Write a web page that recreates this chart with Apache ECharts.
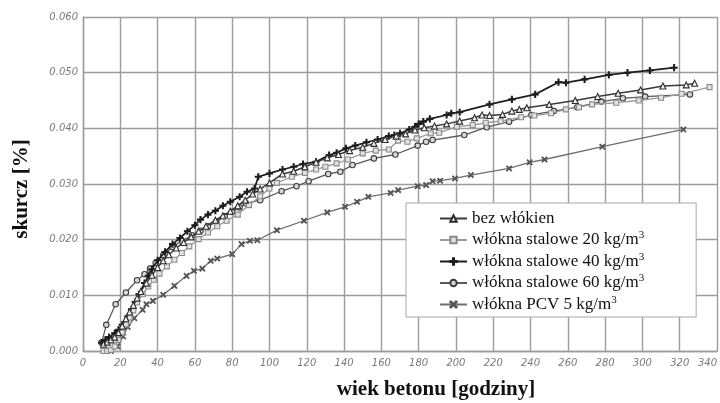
<!DOCTYPE html>
<html>
<head>
<meta charset="utf-8">
<script src="https://cdn.jsdelivr.net/npm/echarts@6/dist/echarts.min.js"></script>
<style>
  html, body { margin: 0; padding: 0; background: #fff; }
  #chart { width: 720px; height: 403px; }
</style>
</head>
<body>
<div id="chart"></div>
<script>
// Skurcz betonu w funkcji wieku – pięć mieszanek
const seriesNames = [
  'bez włókien',
  'włókna stalowe 20 kg/m³',
  'włókna stalowe 40 kg/m³',
  'włókna stalowe 60 kg/m³',
  'włókna PCV 5 kg/m³'
];

const xTicks = [0, 20, 40, 60, 80, 100, 120, 140, 160, 180, 200, 220, 240, 260, 280, 300, 320, 340];
const yTicks = [0.000, 0.010, 0.020, 0.030, 0.040, 0.050, 0.060];

// bez włókien
const hoursBez = [11, 13, 15, 17, 19, 21, 23, 25, 27, 29, 31, 34, 37, 40, 43, 46, 50, 54, 58, 62, 66, 71, 75, 79, 83, 87, 91, 95, 100, 107, 113, 119, 125, 131, 137, 143, 150, 156, 162, 168, 173, 178, 183, 188.5, 195, 202, 210, 214, 218, 225, 230, 234, 238, 250, 264, 276, 287, 299, 311, 323.5, 328];
const shrinkBez = [0.0012, 0.0016, 0.0020, 0.0025, 0.0033, 0.0045, 0.0058, 0.0070, 0.0082, 0.0095, 0.0107, 0.0122, 0.0136, 0.0150, 0.0162, 0.0173, 0.0185, 0.0195, 0.0205, 0.0215, 0.0224, 0.0235, 0.0243, 0.0251, 0.0261, 0.0271, 0.0282, 0.0291, 0.0302, 0.0318, 0.0323, 0.0331, 0.0339, 0.0347, 0.0353, 0.0360, 0.0366, 0.0373, 0.0380, 0.0386, 0.0390, 0.0397, 0.0401, 0.0404, 0.0408, 0.0413, 0.0419, 0.0424, 0.0423, 0.0425, 0.0431, 0.0434, 0.0437, 0.0443, 0.0450, 0.0457, 0.0463, 0.0469, 0.0476, 0.0478, 0.0481];

// włókna stalowe 20 kg/m3
const hoursS20 = [11, 13, 15, 17, 19, 21, 23, 25, 27, 29, 32, 35, 38, 41, 45, 49, 53, 57, 62, 67, 72, 77, 83, 89, 95, 100, 104, 112, 119, 125, 130, 136, 142, 150, 157, 164, 169, 174, 179, 186.5, 191, 200.5, 209, 216, 224, 235, 242, 251, 259, 266, 273, 286, 298, 310, 321, 336];
const shrinkS20 = [0.0000, 0.0000, 0.0002, 0.0008, 0.0020, 0.0033, 0.0048, 0.0060, 0.0073, 0.0087, 0.0102, 0.0116, 0.0128, 0.0139, 0.0152, 0.0164, 0.0176, 0.0188, 0.0201, 0.0213, 0.0224, 0.0234, 0.0245, 0.0262, 0.0278, 0.0292, 0.0302, 0.0313, 0.0320, 0.0326, 0.0331, 0.0337, 0.0344, 0.0355, 0.0360, 0.0362, 0.0378, 0.0376, 0.0382, 0.0391, 0.0392, 0.0403, 0.0406, 0.0410, 0.0413, 0.0420, 0.0423, 0.0427, 0.0434, 0.0438, 0.0443, 0.0446, 0.0450, 0.0455, 0.0462, 0.0474];

// włókna stalowe 40 kg/m3
const hoursS40 = [10, 12, 14, 17, 19, 21, 24, 26, 28, 30, 33, 35, 37, 40, 44, 48, 52, 56, 60, 63, 67, 71, 75, 79, 84, 88, 92, 94, 100, 107, 113, 118, 125, 132, 136, 141, 146, 152, 158, 164, 167, 170, 175, 178, 180, 182.5, 186, 195, 197.5, 202, 218, 230, 242.5, 255, 259, 269, 282, 292, 304, 317];
const shrinkS40 = [0.0015, 0.0020, 0.0025, 0.0032, 0.0038, 0.0047, 0.0062, 0.0075, 0.0088, 0.0102, 0.0122, 0.0135, 0.0147, 0.0163, 0.0178, 0.0192, 0.0203, 0.0215, 0.0226, 0.0236, 0.0245, 0.0252, 0.0261, 0.0268, 0.0277, 0.0286, 0.0292, 0.0313, 0.0319, 0.0326, 0.0331, 0.0336, 0.0340, 0.0352, 0.0356, 0.0364, 0.0369, 0.0375, 0.0380, 0.0386, 0.0388, 0.0391, 0.0398, 0.0403, 0.0408, 0.0412, 0.0417, 0.0424, 0.0427, 0.0429, 0.0443, 0.0452, 0.0461, 0.0483, 0.0482, 0.0488, 0.0496, 0.0500, 0.0504, 0.0509];

// włókna stalowe 60 kg/m3
const hoursS60 = [10, 12.5, 17.5, 23, 29, 33, 36, 39, 43, 48, 53, 58.5, 63, 67, 71.5, 76, 80, 84, 87.5, 95, 106.5, 114.5, 121, 131.5, 138, 144.5, 156, 167.5, 179.5, 184, 187.5, 204.5, 216.5, 228.5, 240.5, 252.5, 265, 278, 289.5, 301.5, 325.5];
const shrinkS60 = [0.0015, 0.0047, 0.0084, 0.0105, 0.0127, 0.0138, 0.0148, 0.0158, 0.0172, 0.0187, 0.0198, 0.0208, 0.0216, 0.0224, 0.0232, 0.0242, 0.0250, 0.0258, 0.0265, 0.0271, 0.0287, 0.0296, 0.0305, 0.0318, 0.0322, 0.0334, 0.0346, 0.0353, 0.0369, 0.0376, 0.0379, 0.0388, 0.0402, 0.0412, 0.0424, 0.0431, 0.0438, 0.0448, 0.0454, 0.0457, 0.0461];

// włókna PCV 5 kg/m3
const hoursPCV = [12, 15, 18.5, 21.5, 24, 27.5, 32, 34, 37.5, 43, 49, 55.5, 59.5, 64, 68.5, 72, 80, 85, 89.5, 93.5, 104, 118.5, 131, 140.5, 147, 153, 165, 169, 179.5, 184, 187.5, 191.5, 199.5, 208, 228.5, 239.5, 247.5, 278.5, 322];
const shrinkPCV = [0.0000, 0.0000, 0.0008, 0.0026, 0.0043, 0.0059, 0.0074, 0.0084, 0.0090, 0.0101, 0.0117, 0.0135, 0.0144, 0.0148, 0.0162, 0.0166, 0.0174, 0.0192, 0.0198, 0.0199, 0.0217, 0.0234, 0.0249, 0.0259, 0.0268, 0.0277, 0.0284, 0.0289, 0.0296, 0.0298, 0.0305, 0.0306, 0.0310, 0.0316, 0.0328, 0.0339, 0.0344, 0.0367, 0.0398];

const pairs = (xs, ys) => xs.map((x, i) => [x, ys[i]]);

const plusPath = 'path://M4.2,0H5.8V4.2H10V5.8H5.8V10H4.2V5.8H0V4.2H4.2Z';
const crossPath = 'path://M0,1L1,0L5,4L9,0L10,1L6,5L10,9L9,10L5,6L1,10L0,9L4,5Z';

const styles = [
  { symbol: 'triangle', size: 6, line: '#3a3a3a', width: 1.5, fill: '#f4f4f4', border: '#2e2e2e' },
  { symbol: 'rect', size: 5, line: '#9a9a9a', width: 1.3, fill: '#e2e2e2', border: '#8a8a8a' },
  { symbol: plusPath, size: 6, line: '#1e1e1e', width: 1.7, fill: '#1e1e1e', border: '#1e1e1e' },
  { symbol: 'circle', size: 5.5, line: '#5a5a5a', width: 1.3, fill: '#d8d8d8', border: '#3c3c3c' },
  { symbol: crossPath, size: 5, line: '#6e6e6e', width: 1.3, fill: '#555555', border: '#555555' }
];

const dataSets = [
  pairs(hoursBez, shrinkBez),
  pairs(hoursS20, shrinkS20),
  pairs(hoursS40, shrinkS40),
  pairs(hoursS60, shrinkS60),
  pairs(hoursPCV, shrinkPCV)
];

const gridColor = '#9c9c9c';
const tickFont = { fontFamily: 'DejaVu Sans', fontStyle: 'italic', fontSize: 10, color: '#7a7a7a' };

const chart = echarts.init(document.getElementById('chart'), null, { renderer: 'canvas' });

chart.setOption({
  animation: false,
  backgroundColor: '#ffffff',
  grid: { left: 83, top: 17, right: 0, bottom: 52, containLabel: false },
  xAxis: {
    type: 'value',
    min: xTicks[0],
    max: xTicks[xTicks.length - 1],
    interval: 20,
    axisLine: { show: true, lineStyle: { color: gridColor, width: 1.4 } },
    axisTick: { show: false },
    splitLine: { show: true, lineStyle: { color: gridColor, width: 1.4 } },
    axisLabel: Object.assign({ margin: 7, alignMaxLabel: 'right' }, tickFont)
  },
  yAxis: {
    type: 'value',
    min: yTicks[0],
    max: yTicks[yTicks.length - 1],
    interval: 0.01,
    axisLine: { show: true, lineStyle: { color: gridColor, width: 1.4 } },
    axisTick: { show: false },
    splitLine: { show: true, lineStyle: { color: gridColor, width: 1.4 } },
    axisLabel: Object.assign({ margin: 5, formatter: v => v.toFixed(3) }, tickFont)
  },
  legend: {
    orient: 'vertical',
    left: 406,
    top: 203,
    padding: [7, 52, 4, 33],
    itemGap: 3,
    itemWidth: 27,
    itemHeight: 8,
    backgroundColor: '#ffffff',
    borderColor: '#a8a8a8',
    borderWidth: 1,
    data: seriesNames,
    formatter: name => name.replace('³', '{sup|3}'),
    textStyle: {
      fontFamily: 'Liberation Serif',
      fontSize: 17,
      lineHeight: 17,
      color: '#111',
      rich: {
        sup: { fontFamily: 'Liberation Serif', fontSize: 11, color: '#111', padding: [0, 0, 9, 0] }
      }
    }
  },
  graphic: [
    {
      type: 'text', x: 436, y: 390,
      style: { text: 'wiek betonu [godziny]', font: 'bold 21px "Liberation Serif"', fill: '#111', align: 'center', verticalAlign: 'middle' }
    },
    {
      type: 'text', x: 22, y: 189, rotation: Math.PI / 2,
      style: { text: 'skurcz [%]', font: 'bold 21px "Liberation Serif"', fill: '#111', align: 'center', verticalAlign: 'middle' }
    }
  ],
  series: seriesNames.map((name, i) => ({
    name,
    type: 'line',
    data: dataSets[i],
    symbol: styles[i].symbol,
    symbolSize: styles[i].size,
    showAllSymbol: true,
    lineStyle: { color: styles[i].line, width: styles[i].width },
    itemStyle: { color: styles[i].fill, borderColor: styles[i].border, borderWidth: 1.1 },
    z: 10 - i
  }))
});
</script>
</body>
</html>
